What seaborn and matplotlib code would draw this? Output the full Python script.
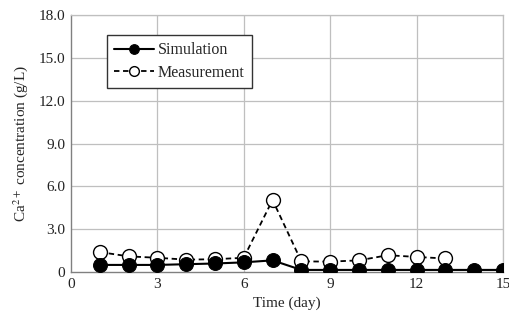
import matplotlib

matplotlib.use("Agg")
import matplotlib.pyplot as plt
import pandas as pd
import seaborn as sns

# values
sim_days = [1, 2, 3, 4, 5, 6, 7, 8, 9, 10, 11, 12, 13, 14, 15]
sim_ca = [0.5, 0.5, 0.5, 0.55, 0.6, 0.68, 0.82, 0.15, 0.15, 0.15, 0.15, 0.15, 0.15, 0.15, 0.15]
meas_days = [1, 2, 3, 4, 5, 6, 7, 8, 9, 10, 11, 12, 13]
meas_ca = [1.4, 1.1, 1.0, 0.87, 0.9, 1.0, 5.05, 0.75, 0.73, 0.82, 1.18, 1.06, 0.95]

x_ticks = [0, 3, 6, 9, 12, 15]
y_ticks = [0, 3, 6, 9, 12, 15, 18]
y_tick_labels = ["0", "3.0", "6.0", "9.0", "12.0", "15.0", "18.0"]

sns.set_style("white")
plt.rcParams["font.family"] = ["Liberation Serif", "DejaVu Serif"]
plt.rcParams["mathtext.fontset"] = "stix"

sim = pd.DataFrame({"day": sim_days, "ca": sim_ca})
meas = pd.DataFrame({"day": meas_days, "ca": meas_ca})

fig = plt.figure(figsize=(5.09, 3.27), dpi=100)
ax = fig.add_axes([0.1395, 0.168, 0.8485, 0.786])

grid_color = "#bfbfbf"
for t in x_ticks[1:]:
    ax.axvline(t, color=grid_color, lw=0.9, zorder=0)
for t in y_ticks[1:]:
    ax.axhline(t, color=grid_color, lw=0.9, zorder=0)

sns.lineplot(data=meas, x="day", y="ca", ax=ax, color="black", lw=1.3,
             linestyle=(0, (3, 2)), marker="o", markersize=10,
             markerfacecolor="white", markeredgecolor="black",
             markeredgewidth=1.0, label="Measurement", zorder=3)
sns.lineplot(data=sim, x="day", y="ca", ax=ax, color="black", lw=1.5,
             marker="o", markersize=10, markerfacecolor="black",
             markeredgecolor="black", label="Simulation", zorder=4)

ax.set_xlim(0, 15)
ax.set_ylim(0, 18)
ax.set_xticks(x_ticks)
ax.set_yticks(y_ticks)
ax.set_yticklabels(y_tick_labels)
ax.tick_params(length=0, labelsize=11, colors="#222222", pad=4)
for side in ["left", "bottom"]:
    ax.spines[side].set_color("#808080")
    ax.spines[side].set_linewidth(1.0)
for side in ["top", "right"]:
    ax.spines[side].set_color(grid_color)
    ax.spines[side].set_linewidth(0.9)

ax.set_xlabel("Time (day)", fontsize=11, labelpad=4)
ax.set_ylabel("Ca$^{2+}$ concentration (g/L)", fontsize=11, labelpad=6)

handles, labels = ax.get_legend_handles_labels()
leg = ax.legend(handles[::-1], labels[::-1], loc="upper left",
                bbox_to_anchor=(0.083, 0.922), borderaxespad=0,
                fontsize=11.5, frameon=True, markerscale=0.7,
                fancybox=False, edgecolor="#333333", framealpha=1,
                handlelength=2.5, handletextpad=0.25, borderpad=0.45,
                labelspacing=0.4)
leg.get_frame().set_linewidth(1.0)

fig.savefig("out.png", dpi=100)
